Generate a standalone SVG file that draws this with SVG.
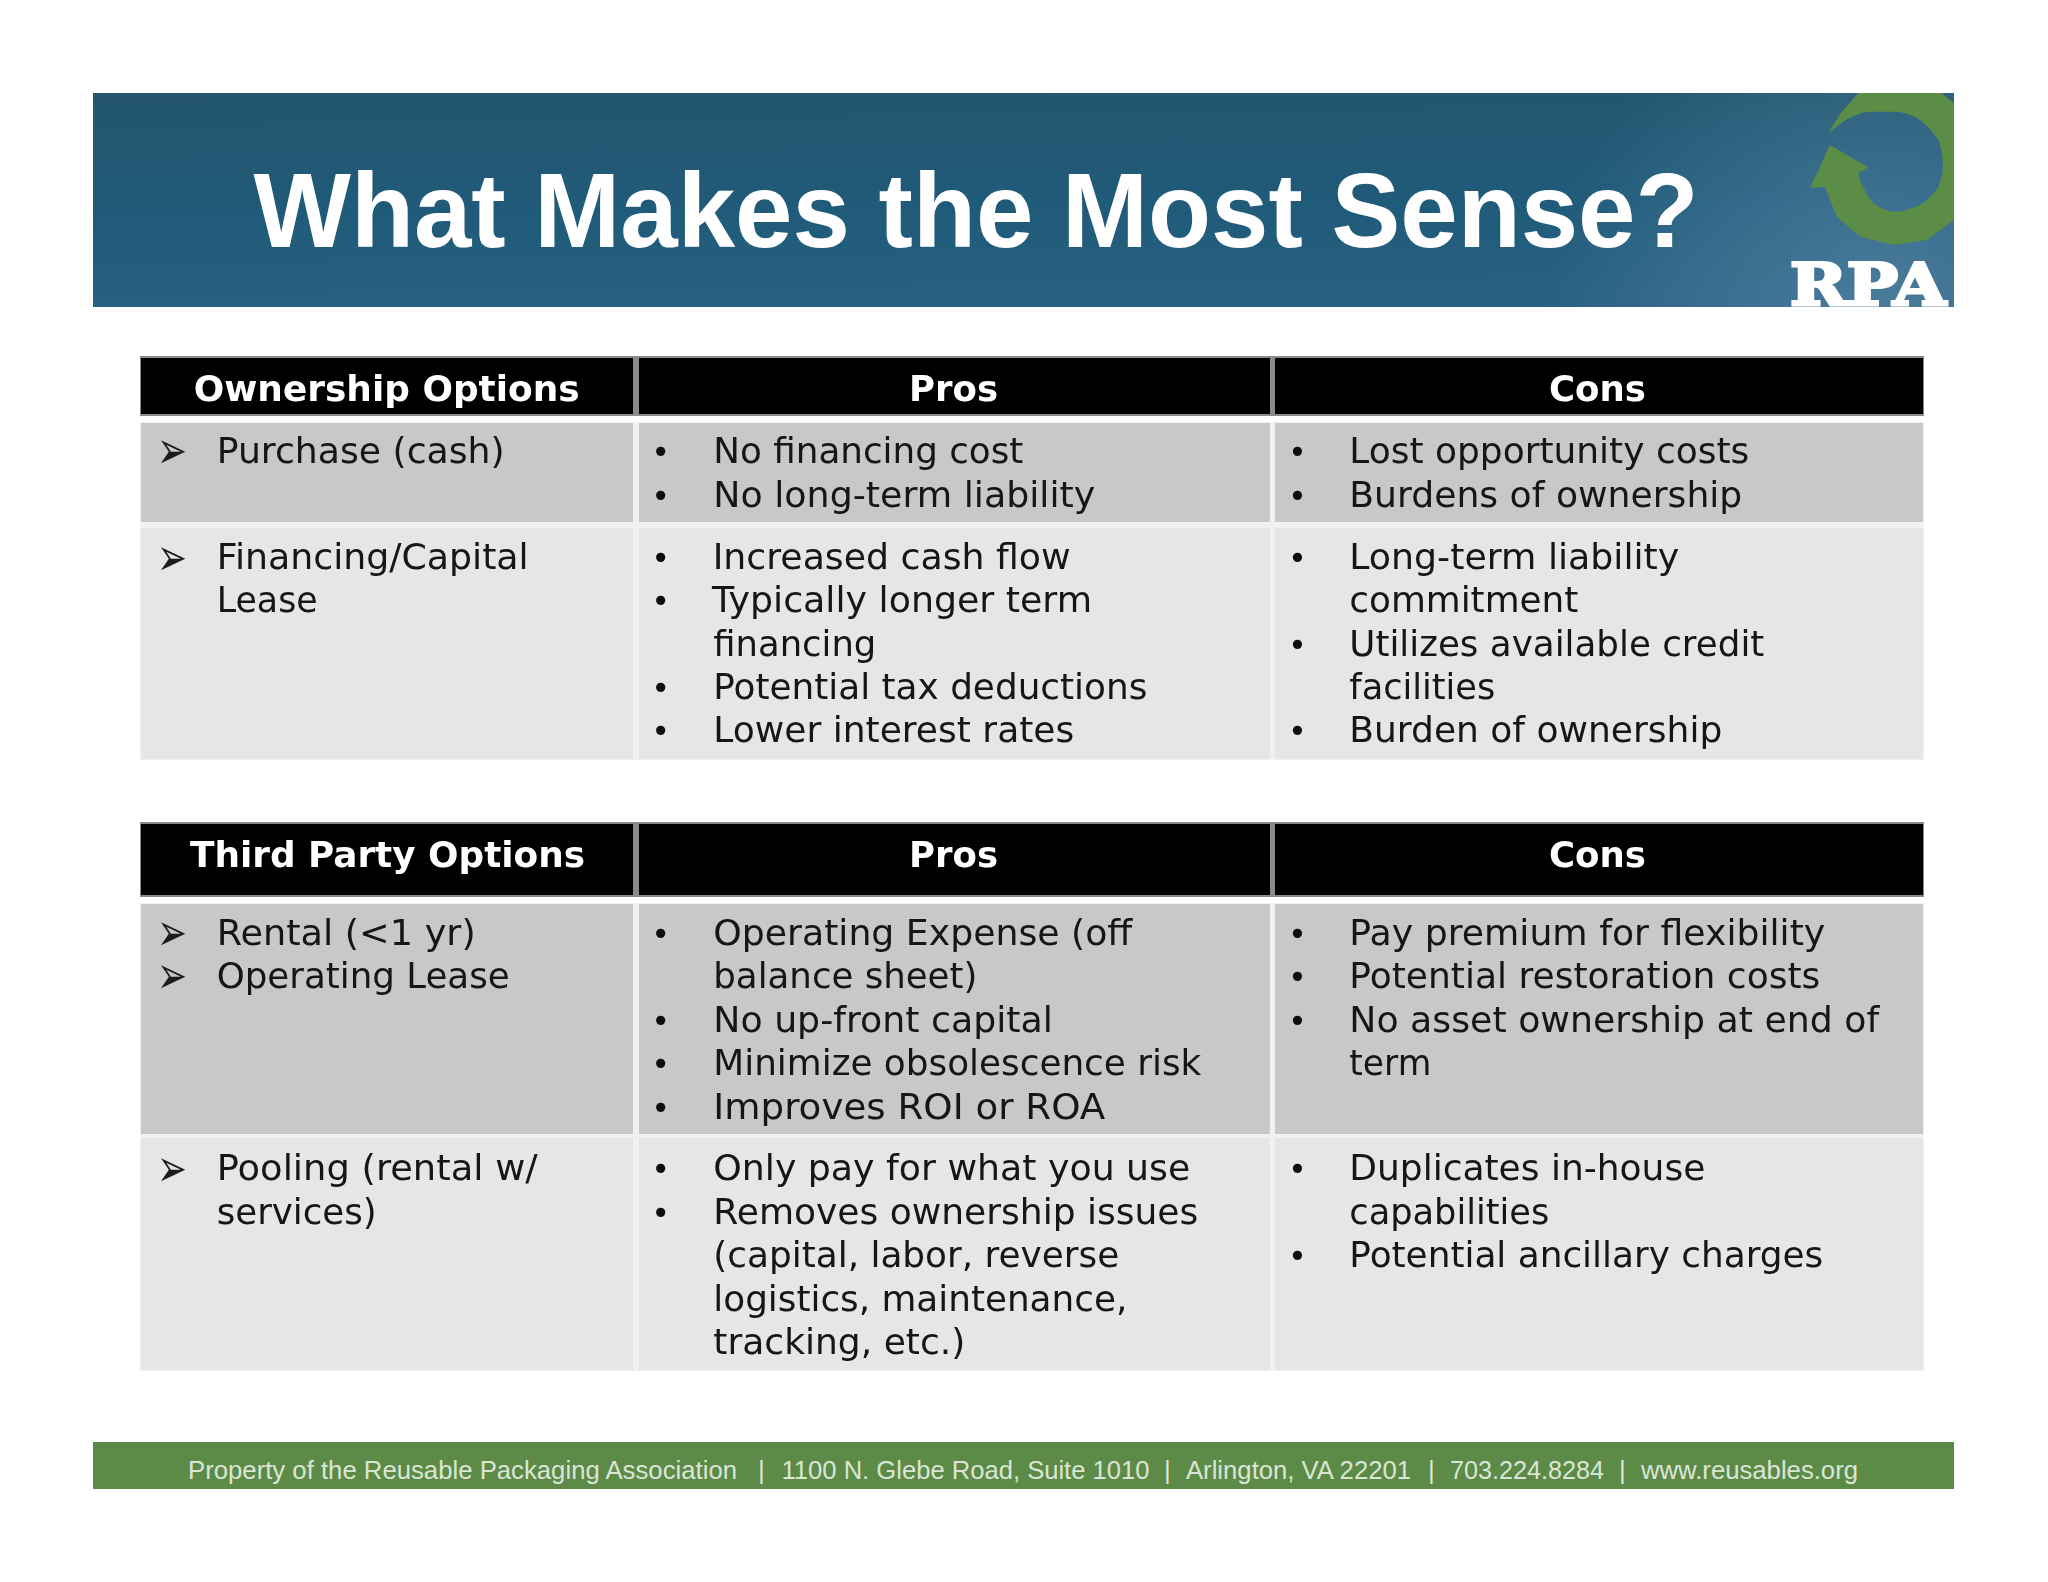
<svg xmlns="http://www.w3.org/2000/svg" width="2048" height="1582" viewBox="0 0 2048 1582">
<style>
.h{fill:#000}
.hb{fill:#8a8a8a}
.gap{fill:#f1f1f1}
.a{fill:#c8c8c8}
.b{fill:#e6e6e6}
text{font-family:"DejaVu Sans","Liberation Sans",sans-serif}
.t{font-size:36px;fill:#141414}
.th{font-size:35px;font-weight:700;fill:#fff}
.m{font-size:32px;fill:#111;text-anchor:middle}
.r{font-size:52px;fill:#1a1a1a}
.f{font-family:"Liberation Sans",Arial,sans-serif;font-size:26px;fill:#dbe5d5}
</style>
<defs>
<linearGradient id="band" x1="0" y1="0" x2="0.12" y2="1">
<stop offset="0" stop-color="#23566c"/>
<stop offset="0.6" stop-color="#205b7a"/>
<stop offset="1" stop-color="#276080"/>
</linearGradient>
<radialGradient id="glow" gradientUnits="userSpaceOnUse" cx="1880" cy="320" r="340">
<stop offset="0" stop-color="#4f7f9f" stop-opacity="0.9"/>
<stop offset="1" stop-color="#4f7f9f" stop-opacity="0"/>
</radialGradient>
<filter id="soft" x="0" y="0" width="1" height="1"><feGaussianBlur stdDeviation="0.6"/></filter>
</defs>
<g id="banner">
<rect x="93" y="93" width="1861" height="214" fill="url(#band)"/>
<rect x="93" y="93" width="1861" height="214" fill="url(#glow)"/>
<path id="logo-arrow" fill="#5b8d47" d="M1828.3,133.3 L1840,114 L1858.3,93 L1941.7,93 L1954,103.3 L1954,220 L1926.7,240 L1893.3,245 L1860,236.7 L1836.7,216.7 L1825,186.7 L1810,188.3 L1830,145 L1868.3,167.3 L1858.3,173.3 Q1860,186 1873.3,203.3 Q1885,211.7 1896.7,211.7 Q1910,210 1920,205 Q1932,197 1938.3,186.7 Q1943,176 1942.7,166.7 Q1943,152 1938.3,140 Q1930,128 1920,120 Q1910,113 1896.7,111.7 L1866.7,111.7 Q1853,115 1843.3,121.7 Z"/>
<text id="logo-text" x="1790" y="305" font-size="58" font-weight="700" fill="#fff" stroke="#fff" stroke-width="3" style="font-family:'DejaVu Serif',serif" textLength="156" lengthAdjust="spacingAndGlyphs">RPA</text>
<text id="title" x="253.5" y="247" style="font-family:'Liberation Sans',Arial,sans-serif;font-size:106px;font-weight:700;fill:#fff" textLength="1445" lengthAdjust="spacingAndGlyphs">What Makes the Most Sense?</text>
</g>
<g id="table-ownership" filter="url(#soft)">
<rect class="hb" x="140" y="356" width="1784" height="60"/>
<rect class="gap" x="140" y="422" width="1784" height="338"/>
<rect class="h" x="141" y="358" width="492" height="56"/>
<rect class="h" x="639" y="358" width="631" height="56"/>
<rect class="h" x="1275" y="358" width="648" height="56"/>
<rect class="a" x="141" y="423" width="492" height="99"/>
<rect class="a" x="639" y="423" width="631" height="99"/>
<rect class="a" x="1275" y="423" width="648" height="99"/>
<rect class="b" x="141" y="528" width="492" height="231"/>
<rect class="b" x="639" y="528" width="631" height="231"/>
<rect class="b" x="1275" y="528" width="648" height="231"/>
<text class="th" x="193.7" y="401" textLength="386" lengthAdjust="spacingAndGlyphs">Ownership Options</text>
<text class="th" x="909" y="401" textLength="89" lengthAdjust="spacingAndGlyphs">Pros</text>
<text class="th" x="1549" y="401" textLength="97" lengthAdjust="spacingAndGlyphs">Cons</text>
<text class="r" x="157" y="468.4" textLength="30" lengthAdjust="spacingAndGlyphs">➢</text>
<text class="t" x="216.7" y="463" textLength="288" lengthAdjust="spacingAndGlyphs">Purchase (cash)</text>
<text class="r" x="157" y="574.7" textLength="30" lengthAdjust="spacingAndGlyphs">➢</text>
<text class="t" x="216.7" y="569.3" textLength="312" lengthAdjust="spacingAndGlyphs">Financing/Capital</text>
<text class="t" x="216.7" y="612.3" textLength="101" lengthAdjust="spacingAndGlyphs">Lease</text>
<text class="m" x="660.6" y="463">•</text>
<text class="t" x="713.3" y="463" textLength="310" lengthAdjust="spacingAndGlyphs">No financing cost</text>
<text class="m" x="660.6" y="506.7">•</text>
<text class="t" x="713.3" y="506.7" textLength="382" lengthAdjust="spacingAndGlyphs">No long-term liability</text>
<text class="m" x="660.6" y="569.3">•</text>
<text class="t" x="712.7" y="569.3" textLength="358" lengthAdjust="spacingAndGlyphs">Increased cash flow</text>
<text class="m" x="660.6" y="612.3">•</text>
<text class="t" x="712" y="612.3" textLength="380" lengthAdjust="spacingAndGlyphs">Typically longer term</text>
<text class="t" x="713.3" y="656" textLength="163" lengthAdjust="spacingAndGlyphs">financing</text>
<text class="m" x="660.6" y="699.3">•</text>
<text class="t" x="713.3" y="699.3" textLength="434" lengthAdjust="spacingAndGlyphs">Potential tax deductions</text>
<text class="m" x="660.6" y="742.3">•</text>
<text class="t" x="713.3" y="742.3" textLength="361" lengthAdjust="spacingAndGlyphs">Lower interest rates</text>
<text class="m" x="1297.5" y="463">•</text>
<text class="t" x="1349.3" y="463" textLength="400" lengthAdjust="spacingAndGlyphs">Lost opportunity costs</text>
<text class="m" x="1297.5" y="506.7">•</text>
<text class="t" x="1349.3" y="506.7" textLength="393" lengthAdjust="spacingAndGlyphs">Burdens of ownership</text>
<text class="m" x="1297.5" y="569.3">•</text>
<text class="t" x="1349.3" y="569.3" textLength="330" lengthAdjust="spacingAndGlyphs">Long-term liability</text>
<text class="t" x="1349.3" y="612.3" textLength="229" lengthAdjust="spacingAndGlyphs">commitment</text>
<text class="m" x="1297.5" y="656">•</text>
<text class="t" x="1349.3" y="656" textLength="415" lengthAdjust="spacingAndGlyphs">Utilizes available credit</text>
<text class="t" x="1349.3" y="699.3" textLength="146" lengthAdjust="spacingAndGlyphs">facilities</text>
<text class="m" x="1297.5" y="742.3">•</text>
<text class="t" x="1349.3" y="742.3" textLength="373" lengthAdjust="spacingAndGlyphs">Burden of ownership</text>
</g>
<g id="table-third-party" filter="url(#soft)">
<rect class="hb" x="140" y="822" width="1784" height="75"/>
<rect class="gap" x="140" y="903" width="1784" height="468"/>
<rect class="h" x="141" y="824" width="492" height="71"/>
<rect class="h" x="639" y="824" width="631" height="71"/>
<rect class="h" x="1275" y="824" width="648" height="71"/>
<rect class="a" x="141" y="904" width="492" height="230"/>
<rect class="a" x="639" y="904" width="631" height="230"/>
<rect class="a" x="1275" y="904" width="648" height="230"/>
<rect class="b" x="141" y="1138" width="492" height="232"/>
<rect class="b" x="639" y="1138" width="631" height="232"/>
<rect class="b" x="1275" y="1138" width="648" height="232"/>
<text class="th" x="190" y="867" textLength="395" lengthAdjust="spacingAndGlyphs">Third Party Options</text>
<text class="th" x="909" y="867" textLength="89" lengthAdjust="spacingAndGlyphs">Pros</text>
<text class="th" x="1549" y="867" textLength="97" lengthAdjust="spacingAndGlyphs">Cons</text>
<text class="r" x="157" y="950.4" textLength="30" lengthAdjust="spacingAndGlyphs">➢</text>
<text class="t" x="216.7" y="945" textLength="259" lengthAdjust="spacingAndGlyphs">Rental (&lt;1 yr)</text>
<text class="r" x="157" y="993.4" textLength="30" lengthAdjust="spacingAndGlyphs">➢</text>
<text class="t" x="216.7" y="988" textLength="293" lengthAdjust="spacingAndGlyphs">Operating Lease</text>
<text class="r" x="157" y="1185.8" textLength="30" lengthAdjust="spacingAndGlyphs">➢</text>
<text class="t" x="216.7" y="1180.4" textLength="321" lengthAdjust="spacingAndGlyphs">Pooling (rental w/</text>
<text class="t" x="216.7" y="1224" textLength="160" lengthAdjust="spacingAndGlyphs">services)</text>
<text class="m" x="660.6" y="945">•</text>
<text class="t" x="713.3" y="945" textLength="419" lengthAdjust="spacingAndGlyphs">Operating Expense (off</text>
<text class="t" x="713.3" y="988" textLength="264" lengthAdjust="spacingAndGlyphs">balance sheet)</text>
<text class="m" x="660.6" y="1032">•</text>
<text class="t" x="713.3" y="1032" textLength="339.5" lengthAdjust="spacingAndGlyphs">No up-front capital</text>
<text class="m" x="660.6" y="1075.4">•</text>
<text class="t" x="713.3" y="1075.4" textLength="488" lengthAdjust="spacingAndGlyphs">Minimize obsolescence risk</text>
<text class="m" x="660.6" y="1118.8">•</text>
<text class="t" x="713.3" y="1118.8" textLength="392" lengthAdjust="spacingAndGlyphs">Improves ROI or ROA</text>
<text class="m" x="660.6" y="1180.4">•</text>
<text class="t" x="713.3" y="1180.4" textLength="477" lengthAdjust="spacingAndGlyphs">Only pay for what you use</text>
<text class="m" x="660.6" y="1224">•</text>
<text class="t" x="713.3" y="1224" textLength="485" lengthAdjust="spacingAndGlyphs">Removes ownership issues</text>
<text class="t" x="713.3" y="1267.4" textLength="406" lengthAdjust="spacingAndGlyphs">(capital, labor, reverse</text>
<text class="t" x="713.3" y="1310.8" textLength="414" lengthAdjust="spacingAndGlyphs">logistics, maintenance,</text>
<text class="t" x="713.3" y="1354.2" textLength="252" lengthAdjust="spacingAndGlyphs">tracking, etc.)</text>
<text class="m" x="1297.5" y="945">•</text>
<text class="t" x="1349.3" y="945" textLength="476" lengthAdjust="spacingAndGlyphs">Pay premium for flexibility</text>
<text class="m" x="1297.5" y="988">•</text>
<text class="t" x="1349.3" y="988" textLength="471" lengthAdjust="spacingAndGlyphs">Potential restoration costs</text>
<text class="m" x="1297.5" y="1032">•</text>
<text class="t" x="1349.3" y="1032" textLength="530" lengthAdjust="spacingAndGlyphs">No asset ownership at end of</text>
<text class="t" x="1349.3" y="1075.4" textLength="82" lengthAdjust="spacingAndGlyphs">term</text>
<text class="m" x="1297.5" y="1180.4">•</text>
<text class="t" x="1349.3" y="1180.4" textLength="356" lengthAdjust="spacingAndGlyphs">Duplicates in-house</text>
<text class="t" x="1349.3" y="1224" textLength="200" lengthAdjust="spacingAndGlyphs">capabilities</text>
<text class="m" x="1297.5" y="1267.4">•</text>
<text class="t" x="1349.3" y="1267.4" textLength="474" lengthAdjust="spacingAndGlyphs">Potential ancillary charges</text>
</g>
<g id="footer">
<rect x="93" y="1442" width="1861" height="47" fill="#5c8b48"/>
<text class="f" x="188" y="1479" textLength="549" lengthAdjust="spacingAndGlyphs">Property of the Reusable Packaging Association</text>
<text class="f" x="758" y="1479">|</text>
<text class="f" x="781.5" y="1479" textLength="368" lengthAdjust="spacingAndGlyphs">1100 N. Glebe Road, Suite 1010</text>
<text class="f" x="1164" y="1479">|</text>
<text class="f" x="1186" y="1479" textLength="225" lengthAdjust="spacingAndGlyphs">Arlington, VA 22201</text>
<text class="f" x="1428" y="1479">|</text>
<text class="f" x="1450" y="1479" textLength="154" lengthAdjust="spacingAndGlyphs">703.224.8284</text>
<text class="f" x="1619" y="1479">|</text>
<text class="f" x="1641" y="1479" textLength="217" lengthAdjust="spacingAndGlyphs">www.reusables.org</text>
</g>
</svg>
